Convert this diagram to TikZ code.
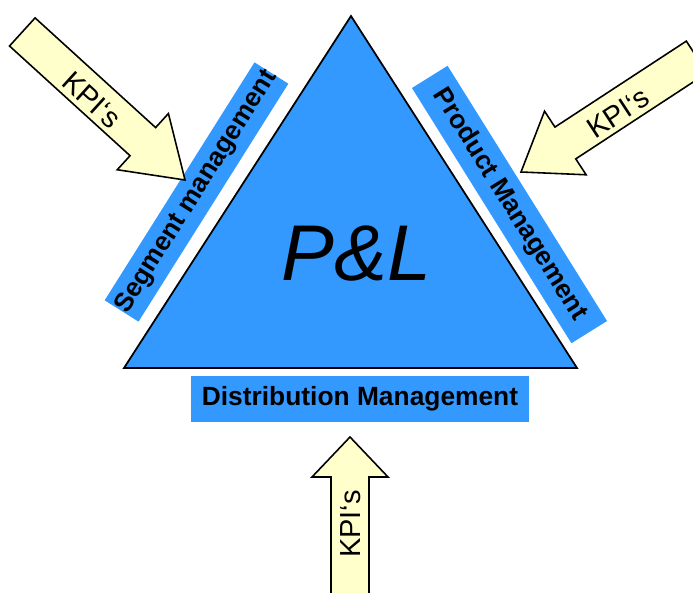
\documentclass[tikz,border=0pt]{standalone}
\usepackage{fontspec}
\setmainfont{Liberation Sans}
\usepackage{tikz}
\definecolor{plblue}{HTML}{3399FF}
\definecolor{kpiyellow}{HTML}{FFFFCC}
\newcommand{\hs}{19}
\newcommand{\hh}{38}
\newcommand{\kpiarrow}[4]{\filldraw[kpi,shift={(#1)},rotate=#2] (0,0) -- (-#4,\hh) -- (-#4,\hs) -- (-#3,\hs) -- (-#3,-\hs) -- (-#4,-\hs) -- (-#4,-\hh) -- cycle;}
\tikzset{
  tri/.style={fill=plblue,draw=black,line width=1pt},
  band/.style={fill=plblue,inner sep=0pt,font=\fontsize{15}{17}\selectfont\bfseries},
  kpi/.style={fill=kpiyellow,draw=black,line width=0.9pt,line join=miter},
  kpitext/.style={font=\fontsize{16.5}{18}\selectfont}
}

\begin{document}
\begin{tikzpicture}[x=0.02cm,y=-0.02cm]
    \clip (0,0) rectangle (693,592);

    \coordinate (apex) at (351,16);
    \coordinate (right) at (577,368);
    \coordinate (left) at (124,368);
    \filldraw[tri] (apex) -- (right) -- (left) -- cycle;
    \node[font=\fontsize{45}{45}\selectfont\itshape,anchor=base] (pl) at (356.5,280) {P\&L};

    \node[band,rotate=57.8,minimum width=5.62cm,minimum height=0.8cm] (segment) at (196.5,192) {Segment management};
    \node[band,rotate=-58,minimum width=6.02cm,minimum height=0.84cm] (product) at (509.5,204.5) {Product Management};
    \node[band,minimum width=6.76cm,minimum height=0.92cm] (distribution) at (360,399) {Distribution Management};

    \kpiarrow{185,180}{-42.3}{220}{57}
    \kpiarrow{521,172}{213.2}{210}{53}
    \kpiarrow{350,437}{90}{200}{40}

    \node[kpitext,rotate=-42.3] (kpileft) at (92,100) {KPI‘s};
    \node[kpitext,rotate=33.2] (kpiright) at (618,113) {KPI‘s};
    \node[kpitext,rotate=90] (kpibottom) at (351,524) {KPI‘s};
\end{tikzpicture}
\end{document}
